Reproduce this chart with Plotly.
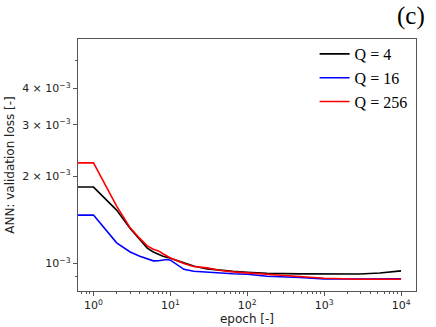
import plotly.graph_objects as go

epochs = [0.6, 1, 2, 3, 4, 5, 6, 7, 8, 9, 10, 15, 20, 30, 45, 65, 100, 180, 480, 1000, 2900, 5300, 10000]
loss_q4 = [1.833, 1.833, 1.527, 1.32, 1.21, 1.13, 1.096, 1.075, 1.06, 1.05, 1.043, 1.005, 0.981, 0.958, 0.946,
           0.94, 0.933, 0.926, 0.921, 0.921, 0.920, 0.927, 0.943]
loss_q16 = [1.468, 1.468, 1.178, 1.096, 1.06, 1.035, 1.021, 1.022, 1.028, 1.032, 1.027, 0.955, 0.94, 0.932, 0.926,
            0.922, 0.918, 0.904, 0.895, 0.885, 0.884, 0.884, 0.885]
loss_q256 = [2.22, 2.22, 1.576, 1.327, 1.22, 1.15, 1.12, 1.105, 1.08, 1.06, 1.045, 1.0, 0.977, 0.966, 0.946,
             0.936, 0.928, 0.916, 0.899, 0.890, 0.883, 0.883, 0.883]
series_names = ["Q = 4", "Q = 16", "Q = 256"]
series_colors = ["black", "blue", "red"]

y_tickvals = [1e-3, 2e-3, 3e-3, 4e-3]
y_ticktext = ["10<sup>−3</sup>", "2 × 10<sup>−3</sup>", "3 × 10<sup>−3</sup>", "4 × 10<sup>−3</sup>"]
y_minor = [9e-4, 5e-3]
x_tickvals = [1, 10, 100, 1000, 10000]
x_ticktext = ["10<sup>0</sup>", "10<sup>1</sup>", "10<sup>2</sup>", "10<sup>3</sup>", "10<sup>4</sup>"]
x_minor = [m * 10 ** k for k in range(-1, 4) for m in range(2, 10)]

fig = go.Figure()
for name, col, ys in zip(series_names, series_colors, [loss_q4, loss_q16, loss_q256]):
    fig.add_trace(go.Scatter(x=epochs, y=[v * 1e-3 for v in ys], mode="lines", name=name,
                             line=dict(color=col, width=1.6)))

axis_common = dict(showgrid=False, zeroline=False, showline=True, mirror=True, linecolor="#555555",
                   linewidth=1.2, ticks="outside", ticklen=4, tickcolor="#555555", automargin=False,
                   tickfont=dict(family="DejaVu Sans", size=11, color="#222"))
fig.update_xaxes(type="log", range=[-0.2016, 4.194], tickvals=x_tickvals, ticktext=x_ticktext,
                 minor=dict(ticks="outside", ticklen=2, tickcolor="#555555", tickvals=x_minor),
                 title=dict(text="epoch [-]", font=dict(family="DejaVu Sans", size=12, color="#222"), standoff=3),
                 **axis_common)
fig.update_yaxes(type="log", range=[-3.0947, -2.227], tickvals=y_tickvals, ticktext=y_ticktext,
                 minor=dict(ticks="outside", ticklen=2, tickcolor="#555555", tickvals=y_minor),
                 title=dict(text="ANN: validation loss [-]", font=dict(family="DejaVu Sans", size=12, color="#222"), standoff=4),
                 **axis_common)

fig.update_layout(
    width=436, height=327, margin=dict(l=78, r=20, t=39, b=36),
    paper_bgcolor="white", plot_bgcolor="white", showlegend=True,
    legend=dict(x=0.70, y=1.008, xanchor="left", yanchor="top", bgcolor="rgba(0,0,0,0)",
                font=dict(family="Liberation Serif", size=16, color="black"), tracegroupgap=4),
    annotations=[dict(text="(c)", x=1.0, y=1.0, xref="paper", yref="paper", xanchor="right", yanchor="bottom",
                      xshift=11, yshift=7, showarrow=False,
                      font=dict(family="Liberation Serif", size=25, color="black"))],
)
fig.write_html("out.html", config={"displayModeBar": False},
               post_script="document.body.style.margin='0px';")
